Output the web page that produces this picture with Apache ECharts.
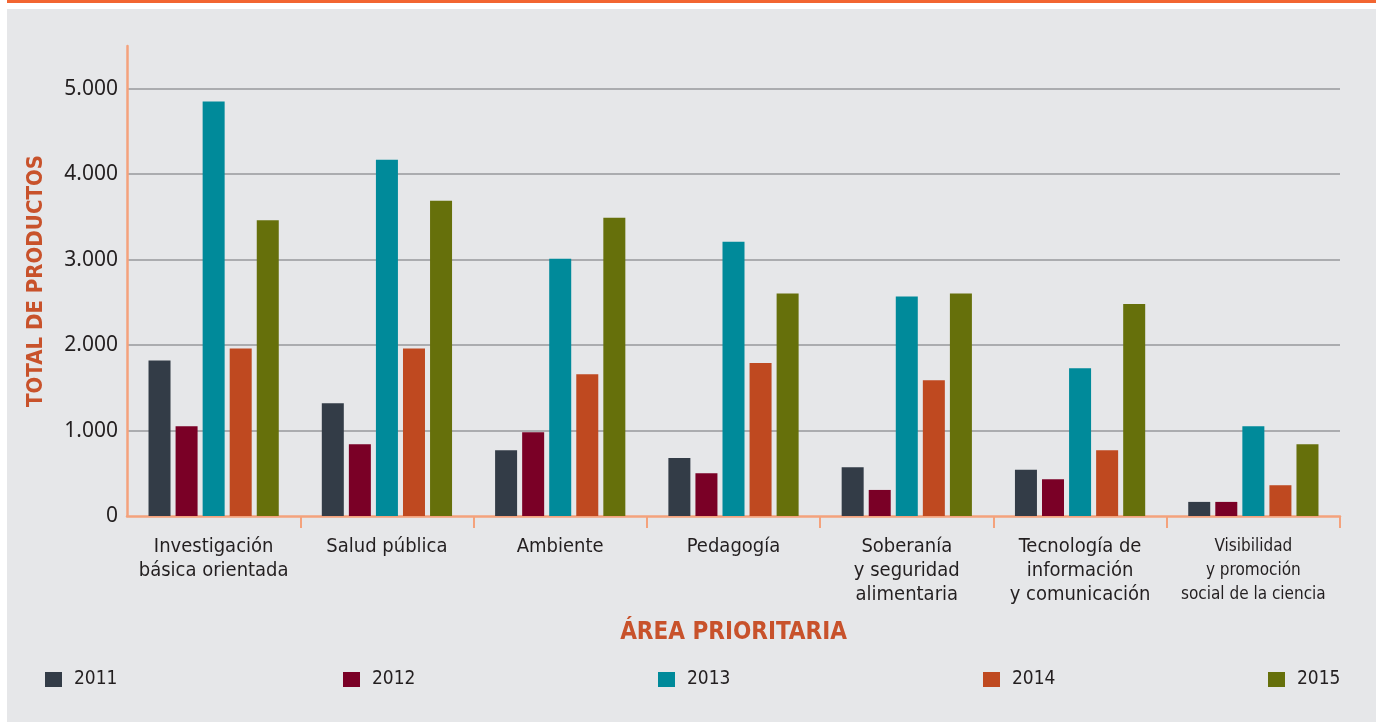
<!DOCTYPE html>
<html>
<head>
<meta charset="utf-8">
<script src="https://cdn.jsdelivr.net/npm/echarts@6/dist/echarts.min.js"></script>
<style>
  html, body { margin: 0; padding: 0; background: #fff; }
  #chart { width: 1378px; height: 722px; }
</style>
</head>
<body>
<div id="chart"></div>
<script>
// categorias (area prioritaria)
const categories = [
  "Investigación\nbásica orientada",
  "Salud pública",
  "Ambiente",
  "Pedagogía",
  "Soberanía\ny seguridad\nalimentaria",
  "Tecnología de\ninformación\ny comunicación",
  "Visibilidad\ny promoción\nsocial de la ciencia"
];
const years = ["2011", "2012", "2013", "2014", "2015"];

// total de productos por año
const v2011 = [1820, 1320, 770, 680, 570, 540, 165];
const v2012 = [1050, 840, 980, 500, 305, 430, 165];
const v2013 = [4850, 4170, 3010, 3210, 2570, 1730, 1050];
const v2014 = [1960, 1960, 1660, 1790, 1590, 770, 360];
const v2015 = [3460, 3690, 3490, 2605, 2605, 2480, 840];

const yTicks = [0, 1000, 2000, 3000, 4000, 5000];

const values = [v2011, v2012, v2013, v2014, v2015];
const colors = ["#333c47", "#7a0026", "#008a9a", "#bf4920", "#66700b"];
const legendLeft = [45, 343, 658, 983, 1268];

const narrow = "'Liberation Sans Narrow', 'DejaVu Sans Condensed', sans-serif";
const orange = "#f4a27c";
const titleColor = "#c8522b";
const textColor = "#231f20";

let myChart = echarts.init(document.getElementById("chart"));

let option = {
  backgroundColor: "#ffffff",
  animation: false,
  graphic: [
    { type: "rect", z: -10, silent: true, shape: { x: 7, y: 0, width: 1369, height: 3 }, style: { fill: "#f26531" } },
    { type: "rect", z: -10, silent: true, shape: { x: 7, y: 9, width: 1369, height: 713 }, style: { fill: "#e6e7e9" } }
  ],
  grid: {
    left: 127,
    right: 38,
    top: 46,
    bottom: 206
  },
  legend: years.map((y, i) => ({
    data: [y],
    left: legendLeft[i],
    top: 670,
    padding: 0,
    icon: "rect",
    itemWidth: 17,
    itemHeight: 15,
    selectedMode: false,
    textStyle: {
      fontFamily: narrow,
      fontSize: 19,
      color: textColor,
      padding: [0, 0, 0, 7]
    }
  })),
  xAxis: {
    type: "category",
    data: categories,
    boundaryGap: true,
    name: "ÁREA PRIORITARIA",
    nameLocation: "middle",
    nameGap: 105,
    nameTextStyle: {
      fontFamily: narrow,
      fontWeight: "bold",
      fontSize: 24,
      color: titleColor
    },
    axisLine: { show: true, lineStyle: { color: orange, width: 2.5 } },
    axisTick: {
      show: true,
      length: 12,
      interval: function (index) { return index !== 0; },
      lineStyle: { color: orange, width: 2 }
    },
    axisLabel: {
      interval: 0,
      margin: 19,
      fontFamily: narrow,
      fontSize: 20,
      lineHeight: 24,
      color: textColor,
      formatter: function (value, index) {
        if (index === 6) return "{s|" + value + "}";
        return value;
      },
      rich: {
        s: { fontFamily: narrow, fontSize: 17, lineHeight: 24, color: textColor }
      }
    }
  },
  yAxis: {
    type: "value",
    min: 0,
    max: 5500,
    interval: 1000,
    name: "TOTAL DE PRODUCTOS",
    nameLocation: "middle",
    nameGap: 80,
    nameTextStyle: {
      fontFamily: narrow,
      fontWeight: "bold",
      fontSize: 22,
      color: titleColor
    },
    axisLine: { show: true, lineStyle: { color: orange, width: 2.5 } },
    axisTick: { show: false },
    axisLabel: {
      showMaxLabel: false,
      margin: 9,
      fontFamily: "'Noto Sans', sans-serif",
      fontSize: 21,
      color: textColor,
      formatter: function (v) {
        if (yTicks.indexOf(v) < 0) return "";
        return v === 0 ? "0" : (v / 1000).toFixed(0) + ".000";
      }
    },
    splitLine: {
      show: true,
      showMinLine: false,
      showMaxLine: false,
      lineStyle: { color: "#97989b", width: 1.5 }
    }
  },
  series: years.map((y, i) => ({
    name: y,
    type: "bar",
    data: values[i],
    barWidth: 22,
    barGap: "23%",
    itemStyle: { color: colors[i] }
  }))
};

myChart.setOption(option);
</script>
</body>
</html>
